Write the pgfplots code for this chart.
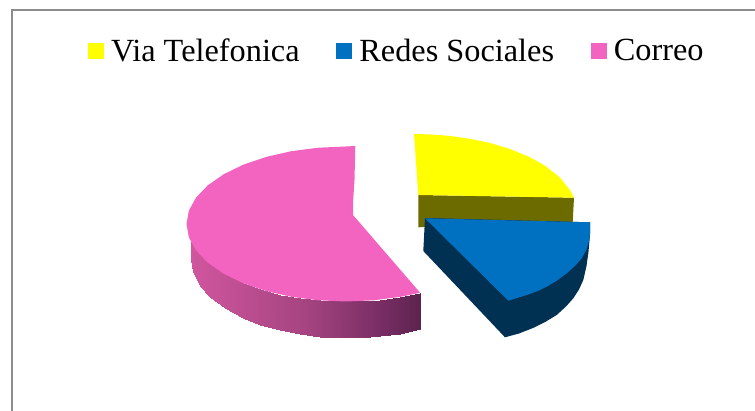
\documentclass[border=0pt]{standalone}
\usepackage{fontspec}
\setmainfont{Liberation Serif}
\usepackage{pgfplots}
\pgfplotsset{compat=1.18}
\definecolor{piePink}{RGB}{242,100,192}
\definecolor{pieBlue}{RGB}{0,112,192}
\definecolor{pieYellow}{RGB}{255,255,0}
\definecolor{sideBlue}{RGB}{0,48,82}
\definecolor{sideOlive}{RGB}{107,107,0}
\definecolor{frameGrey}{RGB}{140,140,140}
\pgfplotsset{
  swatch/.style={
    legend image code/.code={
      \fill[##1] (0pt,-8pt) rectangle (16pt,8pt);
    }
  }
}
\begin{document}
\begin{tikzpicture}
\begin{axis}[
  scale only axis,
  width=755pt, height=411pt,
  xmin=0, xmax=755, ymin=0, ymax=411,
  y dir=reverse,
  hide axis,
  clip=true,
  colormap={sidepink}{rgb255(0cm)=(208,86,158); rgb255(6cm)=(165,68,128); rgb255(10cm)=(120,45,100); rgb255(12cm)=(92,36,78)},
  legend columns=3,
  legend cell align=left,
  legend style={
    draw=none, fill=none, inner sep=0pt, outer sep=0pt,
    at={(axis cs:88,51)}, anchor=west,
    font=\fontsize{32.3}{36}\selectfont,
    /tikz/every even column/.style={column sep=34.8pt},
    /tikz/every odd column/.append style={column sep=5pt},
  },
]
% full drawing area, kept in the page size
\path (axis cs:0,0) -- (axis cs:755,411);

% chart frame, open to the right and at the bottom
\addplot[frameGrey, line width=1.5pt, forget plot] coordinates {(12,411) (12,10) (755,10)};

% yellow slice: side wall, then top face
\addplot[fill=sideOlive, draw=none, forget plot] coordinates {
  (418.3,195) (574,197.7) (572.7,222) (418.3,227.3)} -- cycle;
\addplot[swatch, fill=pieYellow, draw=none] coordinates {
  (414,134) (430,134.4) (450,135.9) (470,138.8) (490,143) (510,149) (530,157.3) (545,165.7)
  (560,177.6) (570,190.2) (574,197.7) (418.3,195)} -- cycle;
\addlegendentry{Via Telefonica}

% blue slice: side wall, then top face
\addplot[fill=sideBlue, draw=none, forget plot] coordinates {
  (425,218) (590,222.3) (590,235) (588.5,251.7) (586.5,266) (583.3,280) (579,289.5) (573.3,298.3)
  (566,306.5) (556.7,315) (546,321.5) (533,328) (519,333.5) (505,337.3) (423.3,251)} -- cycle;
\addplot[swatch, fill=pieBlue, draw=none] coordinates {
  (425,218.3) (590,222.3) (590.2,231) (589.3,240) (586.5,249.5) (581.7,258.3) (575,266)
  (566.7,273.3) (557,280.5) (546.7,286.7) (537,291.3) (526.7,295) (517,298) (508.3,300.7)} -- cycle;
\addlegendentry{Redes Sociales}

% pink slice: shaded side wall, then top face
\addplot[surf, shader=interp, mesh/rows=2, point meta=x, forget plot] table {
x y
191 242.3
193 245.9
200 255.2
210 264.5
225 274.5
243 283.2
260 289.3
280 294.6
300 298.2
320 300.5
340 301.4
360 301.2
380 299.7
400 296.9
420 292.6
191 260
193 272.4
200 286
210 297.2
225 308.5
243 318
260 324.6
280 330.3
300 334.3
320 336.8
340 337.9
360 337.8
380 336.4
400 333.6
420 329.3
};
\addplot[swatch, fill=piePink, draw=none] coordinates {
  (353,215) (353,203) (354.5,180) (355.3,146) (346,146.5) (318.3,147.7) (291.4,151.2) (266.3,156.9)
  (243.5,164.6) (223.8,174.2) (207.9,185.3) (196.1,197.5) (188.9,210.5) (186.5,224) (188.9,237.5)
  (196.1,250.5) (207.9,262.8) (223.8,273.8) (243.5,283.4) (266.3,291.1) (291.4,296.8) (318.3,300.3)
  (346,301.5) (373.7,300.3) (400.6,296.8) (413.4,294.2) (420,292.6)} -- cycle;
\addlegendentry{Correo}
\end{axis}
\end{tikzpicture}
\end{document}
